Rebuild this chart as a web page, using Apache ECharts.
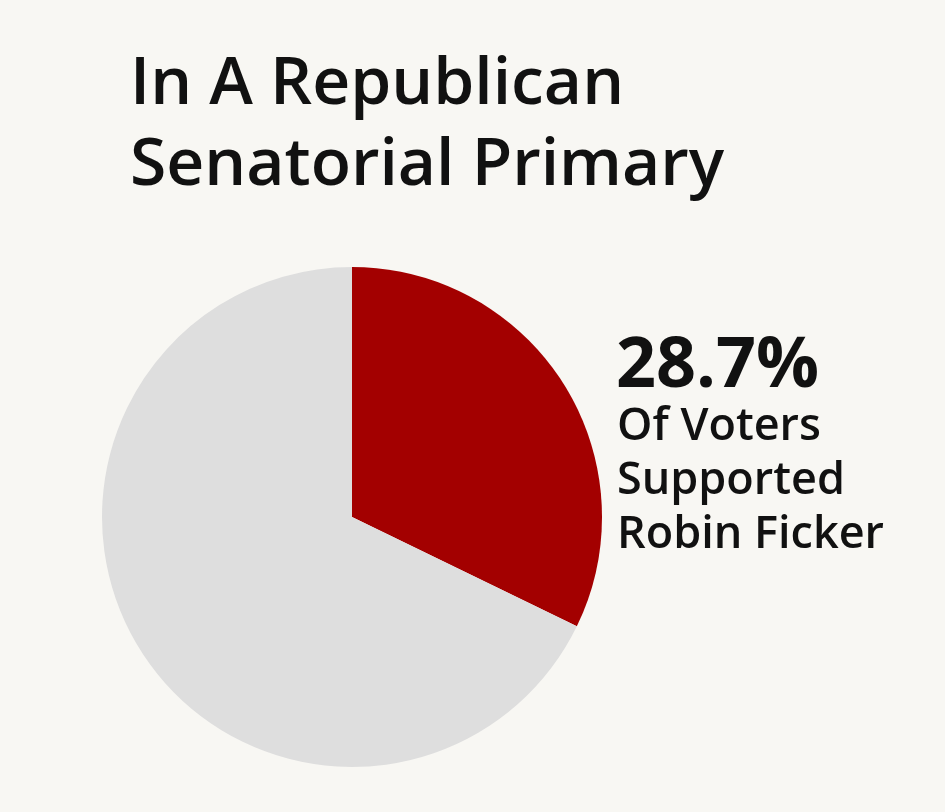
<!DOCTYPE html>
<html>
<head>
<meta charset="utf-8">
<script src="https://cdn.jsdelivr.net/npm/echarts@6/dist/echarts.min.js"></script>
<style>
  html, body { margin: 0; padding: 0; background: #f8f7f3; }
  #chart { width: 945px; height: 812px; }
</style>
</head>
<body>
<div id="chart"></div>
<script>
  // slice shares as drawn in the picture (red wedge ends near 4 o'clock)
  const names = ["Robin Ficker", "Other candidates"];
  const shares = [32.2, 67.8];
  const colors = ["#a30000", "#dedede"];
  const titleLines = ["In A Republican", "Senatorial Primary"];
  const labelValue = "28.7%";
  const labelLines = ["Of Voters", "Supported", "Robin Ficker"];

  const FONT = "'Open Sans', 'Noto Sans', sans-serif";
  const myChart = echarts.init(document.getElementById("chart"));

  let pieData = [];
  for (let i = 0; i < names.length; i++) {
    pieData.push({
      name: names[i],
      value: shares[i],
      itemStyle: { color: colors[i] },
    });
  }

  let texts = [];
  // 标题
  for (let i = 0; i < titleLines.length; i++) {
    texts.push({
      type: "text",
      left: 130,
      top: 52 + i * 81,
      style: {
        text: titleLines[i],
        font: "600 66px " + FONT,
        fill: "#111111",
      },
    });
  }
  // 右侧说明
  texts.push({
    type: "text",
    left: 616,
    top: 332,
    style: {
      text: labelValue,
      font: "700 70px " + FONT,
      fill: "#111111",
    },
  });
  for (let i = 0; i < labelLines.length; i++) {
    texts.push({
      type: "text",
      left: 617,
      top: 405 + i * 54,
      style: {
        text: labelLines[i],
        font: "600 45px " + FONT,
        fill: "#111111",
      },
    });
  }

  const option = {
    backgroundColor: "#f8f7f3",
    animation: false,
    series: [
      {
        type: "pie",
        center: [352, 517],
        radius: 250,
        startAngle: 90,
        clockwise: true,
        label: { show: false },
        labelLine: { show: false },
        emphasis: { disabled: true },
        data: pieData,
      },
    ],
    graphic: texts,
  };
  myChart.setOption(option);
</script>
</body>
</html>
